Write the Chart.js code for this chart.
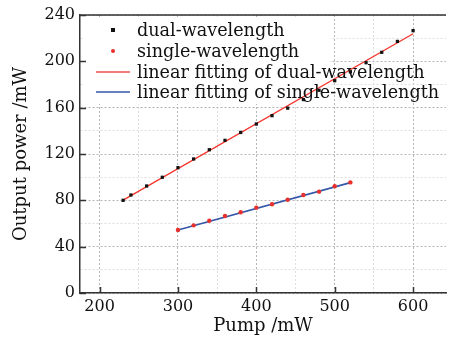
<!DOCTYPE html>
<html lang="en">
<head>
    <meta charset="UTF-8">
    <title>Output power vs pump</title>
    <style>
        body{ margin: 0; background: #fff; }
        div{ width: 450px; height: 340px; }
    </style>
</head>
<body>
    <div>
        <canvas id="grafico1" width="450" height="340"></canvas>
    </div>

    <script src="https://cdn.jsdelivr.net/npm/chart.js"></script>

<script>
  // data
  let dualX = [230, 240, 260, 280, 300, 320, 340, 360, 380, 400, 420, 440, 460, 480, 500, 520, 540, 560, 580, 600];
  let dualY = [80, 84.6, 92.4, 99.9, 108.2, 115.7, 123.7, 131.8, 138.6, 145.9, 153.1, 159.6, 167, 175, 183.3, 191, 198.8, 207.8, 217.2, 226.5];

  let singleX = [300, 320, 340, 360, 380, 400, 420, 440, 460, 480, 500, 520];
  let singleY = [54.4, 58.4, 62.4, 66.5, 69.7, 73.7, 76.6, 80.5, 84.6, 87.5, 92.1, 95.5];

  // end points of the two fitted lines
  let fitDualX = [230, 600];
  let fitDualY = [80.2, 223.8];
  let fitSingleX = [300, 520];
  let fitSingleY = [54.4, 95.3];

  let xMajor = [200, 300, 400, 500, 600];
  let xMinor = [250, 350, 450, 550];
  let yMajor = [0, 40, 80, 120, 160, 200, 240];
  let yMinor = [20, 60, 100, 140, 180, 220];

  let legendLabels = ["dual-wavelength", "single-wavelength", "linear fitting of dual-wavelength", "linear fitting of single-wavelength"];

  const serif = "'DejaVu Serif', serif";

  function pares(xs, ys){
    return xs.map((x, i) => ({x: x, y: ys[i]}));
  }

  function marcas(maior, menor){
    return maior.concat(menor).sort((a, b) => a - b).map(v => ({value: v}));
  }

  // frame, inner ticks and legend
  const moldura = {
    id: 'moldura',
    beforeDatasetsDraw(chart){
      const c = chart.ctx;
      c.save();
      c.fillStyle = '#fff';
      c.fillRect(83, 17, 247, 87);
      c.restore();
    },
    afterDatasetsDraw(chart){
      const c = chart.ctx;
      const a = chart.chartArea;
      const sx = chart.scales.x, sy = chart.scales.y;
      c.save();
      c.strokeStyle = '#333';
      c.lineWidth = 1.5;
      c.beginPath();
      c.moveTo(a.left, a.top);
      c.lineTo(a.right, a.top);
      xMajor.forEach(v => {
        const p = Math.round(sx.getPixelForValue(v)) + 0.5;
        c.moveTo(p, a.bottom);
        c.lineTo(p, a.bottom - 6);
      });
      yMajor.forEach(v => {
        const p = Math.round(sy.getPixelForValue(v)) + 0.5;
        c.moveTo(a.left, p);
        c.lineTo(a.left + 6, p);
      });
      c.stroke();

      // legend
      const linhas = [30, 51, 72, 92];
      c.font = "17.6px " + serif;
      c.fillStyle = '#111';
      c.textBaseline = 'middle';
      legendLabels.forEach((t, i) => c.fillText(t, 137, linhas[i] + 1));
      c.fillStyle = '#111';
      c.fillRect(111, linhas[0] - 2, 4, 4);
      c.fillStyle = '#e8302c';
      c.beginPath();
      c.arc(113, linhas[1], 2, 0, Math.PI * 2);
      c.fill();
      c.lineWidth = 1.3;
      c.strokeStyle = '#f2524c';
      c.beginPath();
      c.moveTo(96, linhas[2]); c.lineTo(130, linhas[2]);
      c.stroke();
      c.strokeStyle = '#3557a8';
      c.beginPath();
      c.moveTo(96, linhas[3]); c.lineTo(130, linhas[3]);
      c.stroke();
      c.restore();
    }
  };

  const ctx = document.getElementById('grafico1');

  let grafico1 = new Chart(ctx, {
    type: 'scatter',
    data: {
      datasets: [
        {
          label: legendLabels[0],
          data: pares(dualX, dualY),
          pointStyle: 'rect',
          pointRadius: 2.3,
          backgroundColor: '#111',
          borderColor: '#111',
          borderWidth: 0,
          order: 0
        },
        {
          label: legendLabels[1],
          data: pares(singleX, singleY),
          pointStyle: 'circle',
          pointRadius: 2.2,
          backgroundColor: '#e8302c',
          borderColor: '#e8302c',
          borderWidth: 0,
          order: 0
        },
        {
          label: legendLabels[2],
          data: pares(fitDualX, fitDualY),
          showLine: true,
          pointRadius: 0,
          borderColor: '#f5332b',
          borderWidth: 1.3,
          order: 1
        },
        {
          label: legendLabels[3],
          data: pares(fitSingleX, fitSingleY),
          showLine: true,
          pointRadius: 0,
          borderColor: '#3557a8',
          borderWidth: 1.6,
          order: 1
        }
      ]
    },
    options: {
      responsive: false,
      animation: false,
      layout: { padding: { top: 15, right: -4, left: 0, bottom: 0 } },
      plugins: {
        legend: { display: false },
        tooltip: { enabled: false }
      },
      scales: {
        x: {
          type: 'linear',
          min: 175,
          max: 642,
          afterBuildTicks: s => { s.ticks = marcas(xMajor, xMinor); },
          afterFit: s => { s.height = 47; },
          ticks: {
            autoSkip: false,
            maxRotation: 0,
            padding: 4,
            color: '#111',
            font: { family: serif, size: 16 },
            callback: v => xMajor.includes(v) ? String(v) : ''
          },
          grid: {
            drawTicks: false,
            color: c => xMajor.includes(c.tick.value) ? '#b4b4b4' : '#dedede',
            lineWidth: 1
          },
          border: { display: true, color: '#333', width: 1.5, dash: [2, 2] },
          title: {
            display: true,
            text: 'Pump /mW',
            color: '#111',
            font: { family: serif, size: 18 },
            padding: { top: 0, bottom: 3 }
          }
        },
        y: {
          min: 0,
          max: 240,
          afterBuildTicks: s => { s.ticks = marcas(yMajor, yMinor); },
          afterFit: s => { s.width = 80; },
          ticks: {
            autoSkip: false,
            padding: 5,
            color: '#111',
            font: { family: serif, size: 16 },
            callback: v => yMajor.includes(v) ? String(v) : ''
          },
          grid: {
            drawTicks: false,
            color: c => yMajor.includes(c.tick.value) ? '#b4b4b4' : '#dedede',
            lineWidth: 1
          },
          border: { display: true, color: '#333', width: 1.5, dash: [2, 2] },
          title: {
            display: true,
            text: 'Output power /mW',
            color: '#111',
            font: { family: serif, size: 18 },
            padding: { top: 11, bottom: 0 }
          }
        }
      }
    },
    plugins: [moldura]
  });
</script>
</body>
</html>
